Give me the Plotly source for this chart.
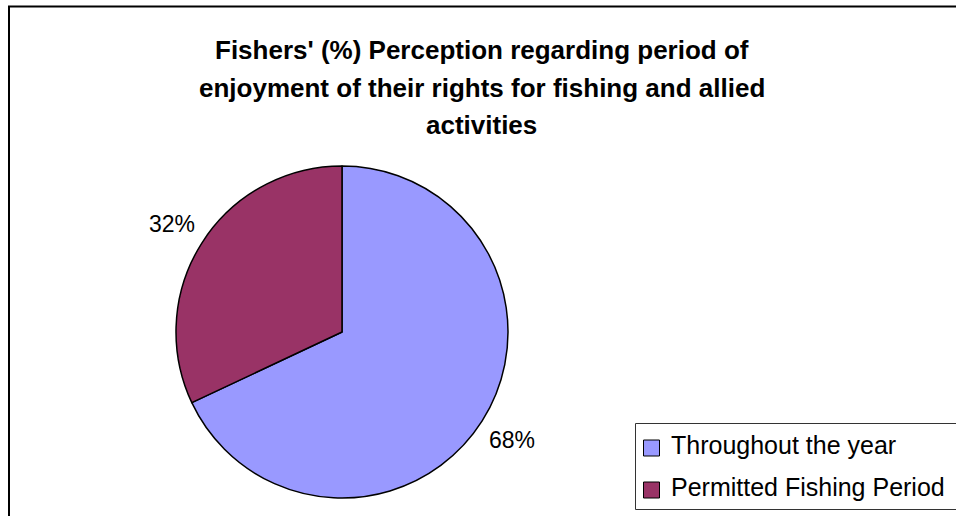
import math
import plotly.graph_objects as go

categories = ["Throughout the year", "Permitted Fishing Period"]
values = [68, 32]
colors = ["#9999FF", "#993366"]
title_lines = [
    "Fishers' (%) Perception regarding period of",
    "enjoyment of their rights for fishing and allied",
    "activities",
]

W, H = 956, 516
cx, cy, r = 342, 332, 166          # pie centre / radius in pixels
FONT = "Liberation Sans, Arial, sans-serif"


def px(x):
    return x / W


def py(y):
    return 1 - y / H


fig = go.Figure(go.Pie(
    labels=categories,
    values=values,
    sort=False,
    direction="clockwise",
    rotation=0,
    marker=dict(colors=colors, line=dict(color="black", width=1.5)),
    textinfo="none",
    domain=dict(x=[px(cx - r), px(cx + r)], y=[py(cy + r), py(cy - r)]),
    hoverinfo="label+percent",
    showlegend=False,
))

annotations = []
# percentage labels placed outside each slice along its mid-angle
total = sum(values)
start = 0.0
for v in values:
    frac = v / total
    mid = (start + frac / 2) * 2 * math.pi
    start += frac
    lx = cx + 1.21 * r * math.sin(mid)
    ly = cy - 1.21 * r * math.cos(mid)
    annotations.append(dict(
        x=px(lx), y=py(ly), xref="paper", yref="paper",
        text=f"{round(frac * 100)}%", showarrow=False,
        xanchor="center", yanchor="middle",
        font=dict(family=FONT, size=23, color="black"),
    ))

# title lines
title_y = [50, 88, 125]
for t, yy in zip(title_lines, title_y):
    annotations.append(dict(
        x=px(482), y=py(yy), xref="paper", yref="paper",
        text="<b>" + t + "</b>", showarrow=False,
        xanchor="center", yanchor="middle",
        font=dict(family=FONT, size=26, color="black"),
    ))

shapes = [
    dict(type="rect", xref="paper", yref="paper",
         x0=px(9), x1=1.02, y0=-0.05, y1=py(6.5),
         line=dict(color="black", width=2), fillcolor="rgba(0,0,0,0)", layer="below"),
    # legend box
    dict(type="rect", xref="paper", yref="paper",
         x0=px(635.5), x1=px(962), y0=py(509.5), y1=py(423.5),
         line=dict(color="#333333", width=1), fillcolor="white", layer="below"),
]

legend_rows = [448, 490]
for cat, col, yy in zip(categories, colors, legend_rows):
    shapes.append(dict(
        type="rect", xref="paper", yref="paper",
        x0=px(643.5), x1=px(659.5), y0=py(yy + 8), y1=py(yy - 8),
        line=dict(color="black", width=1), fillcolor=col,
    ))
    annotations.append(dict(
        x=px(669), y=py(yy - 3), xref="paper", yref="paper",
        text=cat, showarrow=False, xanchor="left", yanchor="middle",
        font=dict(family=FONT, size=25, color="black"),
    ))

fig.update_layout(
    width=W, height=H,
    margin=dict(l=0, r=0, t=0, b=0),
    paper_bgcolor="white",
    plot_bgcolor="white",
    font=dict(family=FONT, color="black"),
    annotations=annotations,
    shapes=shapes,
)

fig.write_html(
    "out.html",
    config={"displayModeBar": False},
    post_script="document.body.style.margin='0';document.body.style.overflow='hidden';",
)
